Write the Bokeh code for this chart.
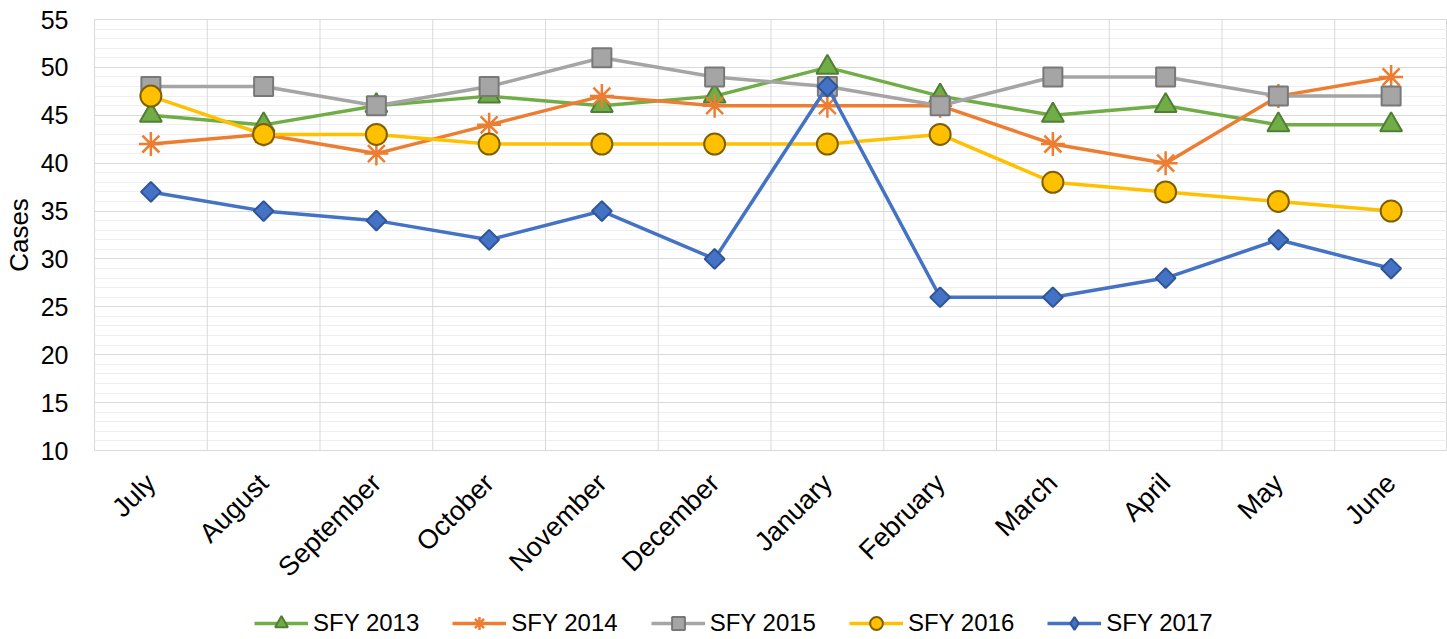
import math
from bokeh.plotting import figure
from bokeh.layouts import column
from bokeh.models import (FactorRange, Range1d, SingleIntervalTicker, Span,
                          Legend, LegendItem)
from bokeh.embed import file_html
from bokeh.resources import INLINE

months = ["July", "August", "September", "October", "November", "December",
          "January", "February", "March", "April", "May", "June"]
sfy2013 = [45, 44, 46, 47, 46, 47, 50, 47, 45, 46, 44, 44]
sfy2014 = [42, 43, 41, 44, 47, 46, 46, 46, 42, 40, 47, 49]
sfy2015 = [48, 48, 46, 48, 51, 49, 48, 46, 49, 49, 47, 47]
sfy2016 = [47, 43, 43, 42, 42, 42, 42, 43, 38, 37, 36, 35]
sfy2017 = [37, 35, 34, 32, 35, 30, 48, 26, 26, 28, 32, 29]

FONT = "Liberation Sans"

p = figure(width=1447, height=607, output_backend="svg", toolbar_location=None,
           x_range=FactorRange(factors=months, range_padding=0),
           y_range=Range1d(10, 55),
           min_border_left=92, min_border_right=0, min_border_top=19,
           min_border_bottom=157)
p.background_fill_color = "white"
p.border_fill_color = "white"
p.outline_line_color = "#d9d9d9"
p.outline_line_width = 1

ticker = SingleIntervalTicker(interval=5, num_minor_ticks=5)
p.yaxis.ticker = ticker
p.ygrid.ticker = ticker
p.ygrid.grid_line_color = "#d9d9d9"
p.ygrid.minor_grid_line_color = "#efefef"
p.xgrid.grid_line_color = None

for i in range(1, len(months)):
    p.add_layout(Span(location=i, dimension="height", line_color="#d9d9d9",
                      line_width=1, level="underlay"))

for ax in (p.xaxis[0], p.yaxis[0]):
    ax.axis_line_color = None
    ax.major_tick_line_color = None
    ax.minor_tick_line_color = None
    ax.major_label_text_font = FONT
    ax.major_label_text_color = "#000000"

p.yaxis.major_label_text_font_size = "25px"
p.xaxis.major_label_text_font_size = "27px"
p.xaxis.major_label_orientation = math.pi / 4
p.xaxis.major_label_standoff = 22
p.yaxis.major_label_standoff = 20
p.yaxis.axis_label = "Cases"
p.yaxis.axis_label_text_font = FONT
p.yaxis.axis_label_text_font_size = "26px"
p.yaxis.axis_label_text_font_style = "normal"
p.yaxis.axis_label_text_color = "#000000"
p.yaxis.axis_label_standoff = 4

# name, values, color, marker, outline, size, angle, legend marker, legend size
series = [
    ("SFY 2013", sfy2013, "#70AD47", "triangle", "#507E32", 22, 0, "triangle", 22),
    ("SFY 2014", sfy2014, "#ED7D31", "asterisk", "#ED7D31", 24, 0, "asterisk", 24),
    ("SFY 2015", sfy2015, "#A5A5A5", "square", "#787878", 19, 0, "square", 19),
    ("SFY 2016", sfy2016, "#FFC000", "circle", "#7F6000", 21, 0, "circle", 21),
    ("SFY 2017", sfy2017, "#4472C4", "square", "#2F5597", 14, math.pi / 4, "diamond", 20),
]

# legend strip: its own small figure below the chart (series lie outside its view)
pl = figure(width=1447, height=32, output_backend="svg", toolbar_location=None,
            x_range=FactorRange(factors=months, range_padding=0),
            y_range=Range1d(0, 1),
            x_axis_location=None, y_axis_location=None, min_border=0)
pl.outline_line_color = None
pl.grid.visible = False
pl.background_fill_color = "white"

items = []
for name, vals, color, marker, outline, size, ang, lmarker, lsize in series:
    lw = 2.5 if marker == "asterisk" else 2
    p.line(months, vals, line_color=color, line_width=3.5)
    p.scatter(months, vals, marker=marker, size=size, angle=ang,
              fill_color=color, line_color=outline, line_width=lw)
    l1 = pl.line(months, vals, line_color=color, line_width=3.5)
    l2 = pl.scatter(months, vals, marker=lmarker, size=lsize,
                    fill_color=color, line_color=outline, line_width=lw)
    items.append(LegendItem(label=name, renderers=[l1, l2]))

legend = Legend(items=items, orientation="horizontal", location=(160, 0),
                glyph_width=54, glyph_height=32, label_standoff=5, spacing=33,
                padding=0, margin=0, border_line_color=None,
                background_fill_alpha=0,
                label_text_font=FONT, label_text_font_size="24px",
                label_text_color="#000000")
pl.add_layout(legend, "center")

layout = column(p, pl, spacing=0)
open("out.html", "w").write(file_html(layout, INLINE))
